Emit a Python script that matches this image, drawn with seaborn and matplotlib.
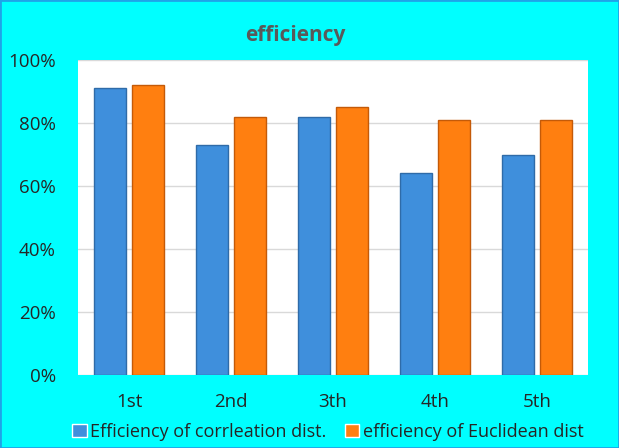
import matplotlib
matplotlib.use('Agg')
import matplotlib.pyplot as plt
import seaborn as sns
import pandas as pd
from matplotlib.ticker import PercentFormatter

# data
runs = ['1st', '2nd', '3th', '4th', '5th']
corr_eff = [0.91, 0.73, 0.82, 0.64, 0.70]
eucl_eff = [0.92, 0.82, 0.85, 0.81, 0.81]
series = ['Efficiency of corrleation dist.', 'efficiency of Euclidean dist']

df = pd.DataFrame({
    'run': runs * 2,
    'eff': corr_eff + eucl_eff,
    'series': [series[0]] * len(runs) + [series[1]] * len(runs),
})

sns.set_style('white')
plt.rcParams['font.family'] = ['Open Sans', 'DejaVu Sans']

fig = plt.figure(figsize=(6.19, 4.48), dpi=100, facecolor='#00FFFF')
axis = fig.add_axes([78 / 619, 1 - 375 / 448, 510 / 619, 315 / 448])
axis.set_facecolor('white')

pal = {series[0]: '#3F8FDC', series[1]: '#FF7F10'}
sns.barplot(data=df, x='run', y='eff', hue='series', palette=pal,
            width=0.76, gap=0.18, saturation=1, ax=axis)

edges = ['#2F6BA8', '#C45A08']
for cont, ec in zip(axis.containers, edges):
    for b in cont:
        b.set_edgecolor(ec)
        b.set_linewidth(1.0)

axis.set_ylim(0, 1.0)
axis.set_yticks([0, 0.2, 0.4, 0.6, 0.8, 1.0])
axis.yaxis.set_major_formatter(PercentFormatter(1.0, decimals=0))
axis.grid(axis='y', color='#D9D9D9', linewidth=1)
axis.set_axisbelow(True)
axis.set_xlabel('')
axis.set_ylabel('')
for s in axis.spines.values():
    s.set_visible(False)
axis.tick_params(axis='y', length=0, labelsize=13.5, pad=16)
axis.tick_params(axis='x', length=0, labelsize=13.5, pad=13)

fig.text(295 / 619, 1 - 35 / 448, 'efficiency', ha='center', va='center',
         fontsize=15, fontweight='bold', color='#595959')

axis.legend(loc='center', bbox_to_anchor=(0.49, -0.18), ncol=2, frameon=False,
            fontsize=13, handlelength=0.8, handleheight=0.8,
            handletextpad=0.2, columnspacing=1.0, borderaxespad=0)

# thin blue frame round the figure
fig.patches.append(plt.Rectangle((0, 0), 1, 1, transform=fig.transFigure,
                                 fill=False, edgecolor='#1FA3E8', linewidth=2))

fig.savefig('out.png', dpi=100, facecolor=fig.get_facecolor())
